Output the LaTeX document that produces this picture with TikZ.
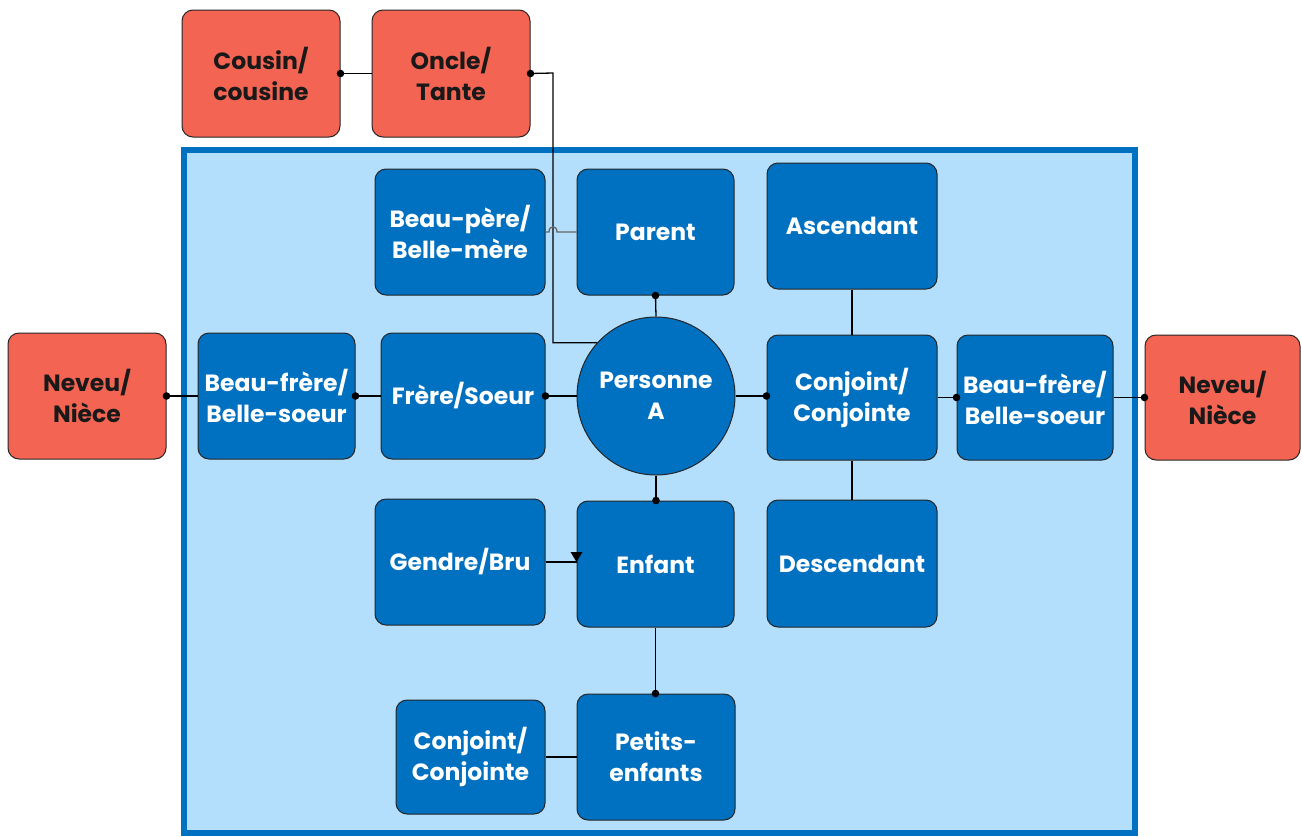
\documentclass[tikz,border=0pt]{standalone}
\usepackage{fontspec}
\setmainfont{Poppins}
\definecolor{dblue}{HTML}{0070C0}
\definecolor{lblue}{HTML}{B3DEFC}
\definecolor{rred}{HTML}{F46452}
\begin{document}
\begin{tikzpicture}[x=1pt,y=-1pt,
  box/.style={draw=black!85, line width=1pt, rounded corners=11pt, align=center,
    font=\bfseries\fontsize{23.5}{31}\selectfont, inner sep=2pt},
  bluebox/.style={box, fill=dblue, text=white},
  redbox/.style={box, fill=rred, text=black!90},
  conn/.style={draw=black, line width=1.3pt},
  dotr/.style={fill=black}]
\useasboundingbox (0,0) rectangle (1302,836);
\fill[white] (0,0) rectangle (1302,836);
% frame
\draw[line width=6pt, draw=dblue, fill=lblue] (184,150) rectangle (1135,833);

% red boxes
\node[redbox, minimum width=158pt, minimum height=127pt] (cousin) at (261,73.5) {Cousin/\\cousine};
\node[redbox, minimum width=158pt, minimum height=127pt] (oncle) at (451,73.5) {Oncle/\\Tante};
\node[redbox, minimum width=158pt, minimum height=126pt] (nevL) at (87,396) {Neveu/\\Nièce};
\node[redbox, minimum width=155pt, minimum height=125pt] (nevR) at (1222.5,397.5) {Neveu/\\Nièce};

% blue boxes
\node[bluebox, minimum width=170pt, minimum height=126pt] (bp) at (460,232) {Beau-père/\\Belle-mère};
\node[bluebox, minimum width=157pt, minimum height=126pt] (parent) at (655.5,232) {Parent};
\node[bluebox, minimum width=170pt, minimum height=126pt] (asc) at (852,226) {Ascendant};
\node[bluebox, minimum width=157pt, minimum height=126pt] (bfL) at (276.5,396) {Beau-frère/\\Belle-soeur};
\node[bluebox, minimum width=164pt, minimum height=126pt] (frere) at (463,396) {Frère/Soeur};
\node[bluebox, circle, rounded corners=0pt, minimum size=158pt] (pa) at (656,396) {Personne\\A};
\node[bluebox, minimum width=170pt, minimum height=125pt] (conjR) at (852,397.5) {Conjoint/\\Conjointe};
\node[bluebox, minimum width=156pt, minimum height=125pt] (bfR) at (1035,397.5) {Beau-frère/\\Belle-soeur};
\node[bluebox, minimum width=170pt, minimum height=126pt] (gendre) at (460,562) {Gendre/Bru};
\node[bluebox, minimum width=157pt, minimum height=126pt] (enfant) at (655.5,564) {Enfant};
\node[bluebox, minimum width=170pt, minimum height=127pt] (desc) at (852,563.5) {Descendant};
\node[bluebox, minimum width=149pt, minimum height=114pt] (conjB) at (470.5,757) {Conjoint/\\Conjointe};
\node[bluebox, minimum width=158pt, minimum height=126pt] (petits) at (656,757) {Petits-\\enfants};

% connectors
\draw[conn] (cousin.east) -- (oncle.west);
\fill[dotr] (cousin.east) circle (3.8pt);

\coordinate (jx) at (553,73);
\draw[conn] (oncle.east) -- (jx) |- (pa.138);
\fill[dotr] (oncle.east) circle (3.8pt);

\draw[draw=black!60, line width=1.3pt] (bp.east) -- (549,232) .. controls (549,225) and (557,225) .. (557,232) -- (parent.west);

\draw[conn] (parent.south) -- (pa.north);
\fill[dotr] (parent.south) circle (3.8pt);

\draw[conn] (nevL.east) -- (bfL.west);
\fill[dotr] (nevL.east) circle (3.8pt);
\draw[conn] (bfL.east) -- (frere.west);
\fill[dotr] (bfL.east) circle (3.8pt);
\draw[conn] (frere.east) -- (pa.west);
\fill[dotr] (frere.east) circle (3.8pt);

\draw[conn] (pa.east) -- (pa.east -| conjR.west);
\fill[dotr] (pa.east -| conjR.west) circle (3.8pt);
\draw[conn] (conjR.east) -- (bfR.west);
\fill[dotr] (bfR.west) circle (3.8pt);
\draw[conn] (bfR.east) -- (nevR.west);
\fill[dotr] (nevR.west) circle (3.8pt);

\draw[conn] (asc.south) -- (conjR.north);
\draw[conn] (conjR.south) -- (desc.north);

\draw[conn] (pa.south) -- (pa.south |- enfant.north);
\fill[dotr] (pa.south |- enfant.north) circle (3.8pt);
\draw[conn] (enfant.south) -- (enfant.south |- petits.north);
\fill[dotr] (enfant.south |- petits.north) circle (3.8pt);

\coordinate (gt) at (gendre.east -| enfant.west);
\draw[conn] (gendre.east) -- (gt);
\fill[black] (gt) -- ++(-6,-10) -- ++(12,0) -- cycle;

\draw[conn] (conjB.east) -- (petits.west);
\end{tikzpicture}
\end{document}
